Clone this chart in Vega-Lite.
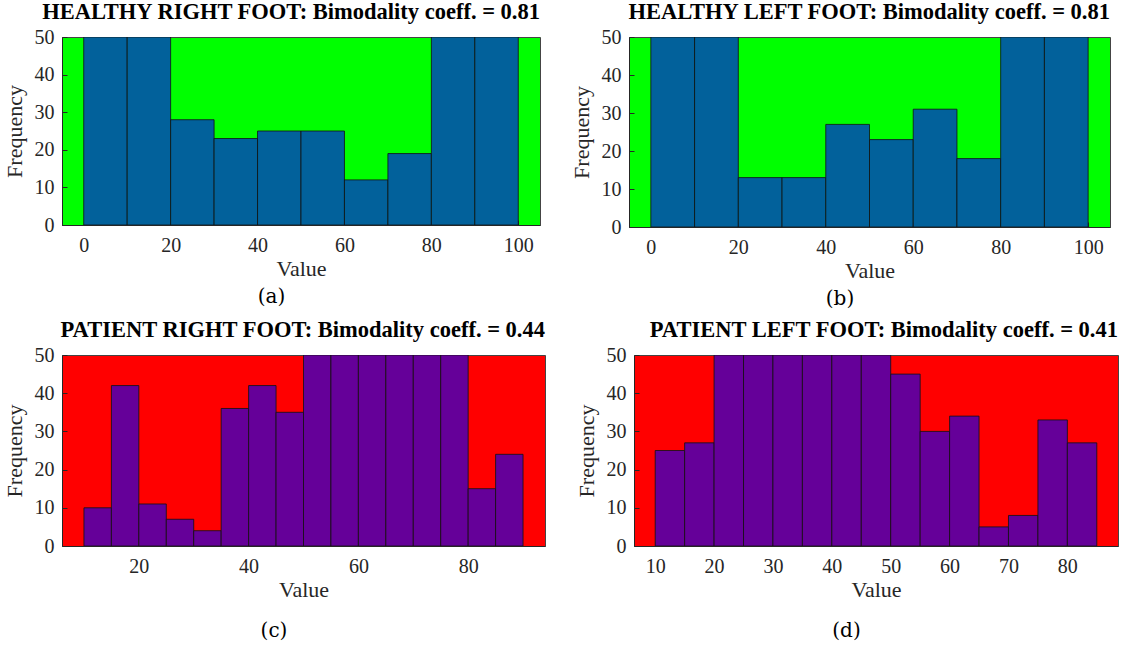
{
  "$schema": "https://vega.github.io/schema/vega-lite/v6.json",
  "background": "white",
  "padding": {"left": 2, "top": 0, "right": 2, "bottom": 0},
  "config": {
    "view": {"stroke": "#444444", "strokeWidth": 1},
    "axis": {
      "labelFont": "Liberation Serif", "labelFontSize": 20, "labelColor": "#262626",
      "titleFont": "Liberation Serif", "titleFontSize": 22, "titleFontWeight": "normal", "titleColor": "#262626",
      "domainColor": "#262626", "tickColor": "#262626", "tickSize": -5, "grid": false
    },
    "axisX": {"labelPadding": 15, "titlePadding": 3},
    "axisY": {"labelPadding": 13, "titlePadding": 8},
    "title": {"font": "Liberation Serif", "fontSize": 22.5, "fontWeight": "bold", "color": "black", "offset": 0, "anchor": "end"},
    "concat": {"spacing": 10}
  },
  "datasets": {
    "a": [
      {"start": 0, "end": 10, "count": 50}, {"start": 10, "end": 20, "count": 50},
      {"start": 20, "end": 30, "count": 28}, {"start": 30, "end": 40, "count": 23},
      {"start": 40, "end": 50, "count": 25}, {"start": 50, "end": 60, "count": 25},
      {"start": 60, "end": 70, "count": 12}, {"start": 70, "end": 80, "count": 19},
      {"start": 80, "end": 90, "count": 50}, {"start": 90, "end": 100, "count": 50}
    ],
    "b": [
      {"start": 0, "end": 10, "count": 50}, {"start": 10, "end": 20, "count": 50},
      {"start": 20, "end": 30, "count": 13}, {"start": 30, "end": 40, "count": 13},
      {"start": 40, "end": 50, "count": 27}, {"start": 50, "end": 60, "count": 23},
      {"start": 60, "end": 70, "count": 31}, {"start": 70, "end": 80, "count": 18},
      {"start": 80, "end": 90, "count": 50}, {"start": 90, "end": 100, "count": 50}
    ],
    "c": [
      {"start": 10, "end": 15, "count": 10}, {"start": 15, "end": 20, "count": 42},
      {"start": 20, "end": 25, "count": 11}, {"start": 25, "end": 30, "count": 7},
      {"start": 30, "end": 35, "count": 4}, {"start": 35, "end": 40, "count": 36},
      {"start": 40, "end": 45, "count": 42}, {"start": 45, "end": 50, "count": 35},
      {"start": 50, "end": 55, "count": 50}, {"start": 55, "end": 60, "count": 50},
      {"start": 60, "end": 65, "count": 50}, {"start": 65, "end": 70, "count": 50},
      {"start": 70, "end": 75, "count": 50}, {"start": 75, "end": 80, "count": 50},
      {"start": 80, "end": 85, "count": 15}, {"start": 85, "end": 90, "count": 24}
    ],
    "d": [
      {"start": 10, "end": 15, "count": 25}, {"start": 15, "end": 20, "count": 27},
      {"start": 20, "end": 25, "count": 50}, {"start": 25, "end": 30, "count": 50},
      {"start": 30, "end": 35, "count": 50}, {"start": 35, "end": 40, "count": 50},
      {"start": 40, "end": 45, "count": 50}, {"start": 45, "end": 50, "count": 50},
      {"start": 50, "end": 55, "count": 45}, {"start": 55, "end": 60, "count": 30},
      {"start": 60, "end": 65, "count": 34}, {"start": 65, "end": 70, "count": 5},
      {"start": 70, "end": 75, "count": 8}, {"start": 75, "end": 80, "count": 33},
      {"start": 80, "end": 85, "count": 27}
    ]
  },
  "vconcat": [
    {
      "hconcat": [
        {
          "title": {"text": "(a)", "orient": "bottom", "anchor": "middle", "font": "DejaVu Serif", "fontSize": 20, "fontWeight": "normal", "offset": 7},
          "vconcat": [
            {
              "title": "HEALTHY RIGHT FOOT: Bimodality coeff. = 0.81",
              "width": 478, "height": 188,
              "view": {"fill": "#00ff00"},
              "data": {"name": "a"},
              "mark": {"type": "bar", "color": "#02619b", "stroke": "#111111", "strokeWidth": 0.8, "clip": true},
              "encoding": {
                "x": {"field": "start", "type": "quantitative", "title": "Value", "scale": {"domain": [-5, 105], "nice": false, "zero": false}, "axis": {"values": [0, 20, 40, 60, 80, 100]}},
                "x2": {"field": "end"},
                "y": {"field": "count", "type": "quantitative", "title": "Frequency", "scale": {"domain": [0, 50], "nice": false}, "axis": {"values": [0, 10, 20, 30, 40, 50]}},
                "y2": {"datum": 0}
              }
            }
          ]
        },
        {
          "title": {"text": "(b)", "orient": "bottom", "anchor": "middle", "font": "DejaVu Serif", "fontSize": 20, "fontWeight": "normal", "offset": 7},
          "vconcat": [
            {
              "title": "HEALTHY LEFT FOOT: Bimodality coeff. = 0.81",
              "width": 481, "height": 190,
              "view": {"fill": "#00ff00"},
              "data": {"name": "b"},
              "mark": {"type": "bar", "color": "#02619b", "stroke": "#111111", "strokeWidth": 0.8, "clip": true},
              "encoding": {
                "x": {"field": "start", "type": "quantitative", "title": "Value", "scale": {"domain": [-5, 105], "nice": false, "zero": false}, "axis": {"values": [0, 20, 40, 60, 80, 100]}},
                "x2": {"field": "end"},
                "y": {"field": "count", "type": "quantitative", "title": "Frequency", "scale": {"domain": [0, 50], "nice": false}, "axis": {"values": [0, 10, 20, 30, 40, 50]}},
                "y2": {"datum": 0}
              }
            }
          ]
        }
      ],
      "spacing": 28
    },
    {
      "hconcat": [
        {
          "title": {"text": "(c)", "orient": "bottom", "anchor": "middle", "font": "DejaVu Serif", "fontSize": 20, "fontWeight": "normal", "offset": 20},
          "vconcat": [
            {
              "title": "PATIENT RIGHT FOOT: Bimodality coeff. = 0.44",
              "width": 483, "height": 191,
              "view": {"fill": "#ff0000"},
              "data": {"name": "c"},
              "mark": {"type": "bar", "color": "#650099", "stroke": "#111111", "strokeWidth": 0.8, "clip": true},
              "encoding": {
                "x": {"field": "start", "type": "quantitative", "title": "Value", "scale": {"domain": [6, 94], "nice": false, "zero": false}, "axis": {"values": [20, 40, 60, 80]}},
                "x2": {"field": "end"},
                "y": {"field": "count", "type": "quantitative", "title": "Frequency", "scale": {"domain": [0, 50], "nice": false}, "axis": {"values": [0, 10, 20, 30, 40, 50]}},
                "y2": {"datum": 0}
              }
            }
          ]
        },
        {
          "title": {"text": "(d)", "orient": "bottom", "anchor": "middle", "font": "DejaVu Serif", "fontSize": 20, "fontWeight": "normal", "offset": 20},
          "vconcat": [
            {
              "title": "PATIENT LEFT FOOT: Bimodality coeff. = 0.41",
              "width": 484, "height": 191,
              "view": {"fill": "#ff0000"},
              "data": {"name": "d"},
              "mark": {"type": "bar", "color": "#650099", "stroke": "#111111", "strokeWidth": 0.8, "clip": true},
              "encoding": {
                "x": {"field": "start", "type": "quantitative", "title": "Value", "scale": {"domain": [6.4, 88.6], "nice": false, "zero": false}, "axis": {"values": [10, 20, 30, 40, 50, 60, 70, 80]}},
                "x2": {"field": "end"},
                "y": {"field": "count", "type": "quantitative", "title": "Frequency", "scale": {"domain": [0, 50], "nice": false}, "axis": {"values": [0, 10, 20, 30, 40, 50]}},
                "y2": {"datum": 0}
              }
            }
          ]
        }
      ],
      "spacing": 28
    }
  ],
  "spacing": 9
}
